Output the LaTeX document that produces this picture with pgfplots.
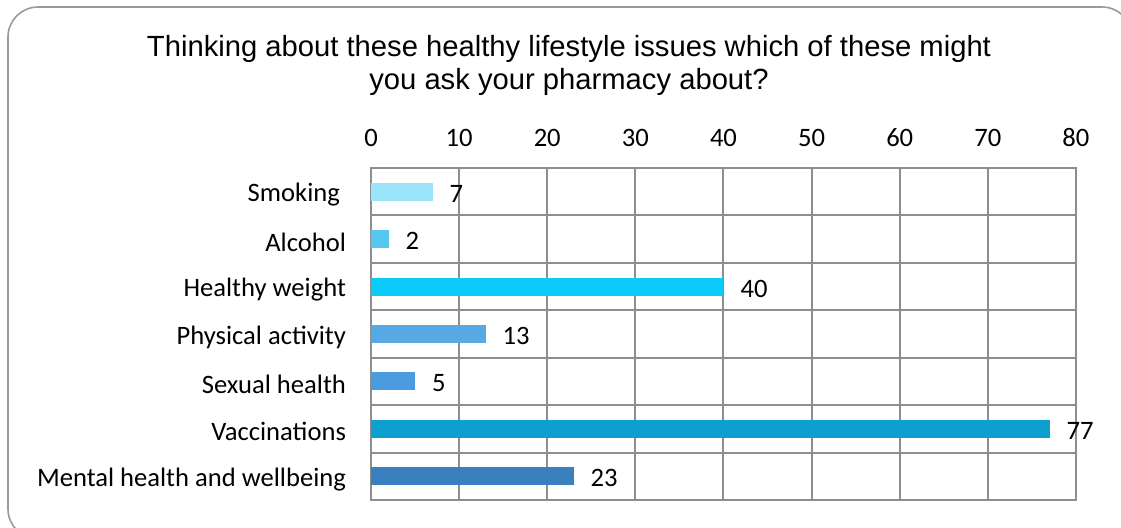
\documentclass[border=0pt]{standalone}
\usepackage{pgfplots}
\pgfplotsset{compat=1.18}
\usepackage{fontspec}
\setmainfont{Carlito}
\newfontfamily\titlefont{Liberation Sans}
\definecolor{gridc}{HTML}{8E8E8E}
\definecolor{frame}{HTML}{9A9A9A}
\definecolor{cA}{HTML}{9BE5FB}
\definecolor{cB}{HTML}{56C8EF}
\definecolor{cC}{HTML}{0BCBFB}
\definecolor{cD}{HTML}{57A9E4}
\definecolor{cE}{HTML}{4A9BE0}
\definecolor{cF}{HTML}{0C9FD0}
\definecolor{cG}{HTML}{3C7FBF}
\begin{document}
\begin{tikzpicture}
\clip (0,0) rectangle (560.5pt,263.5pt);
\draw[frame, line width=0.8pt, rounded corners=15pt] (4pt,260pt) rectangle (566pt,-6pt);
\node[font=\titlefont\fontsize{14.6}{16.4}\selectfont, align=center] at (284.5pt,230.7pt)
  {Thinking about these healthy lifestyle issues which of these might\\you ask your pharmacy about?};
\begin{axis}[
  at={(185.5pt,13.5pt)}, anchor=south west,
  scale only axis, width=352.5pt, height=166pt,
  xbar, bar width=0.38, bar shift=0pt,
  xmin=0, xmax=80, xtick={0,10,...,80},
  ymin=0.5, ymax=7.5, y dir=reverse,
  ytick={1,...,7},
  yticklabels={Smoking\kern3pt,Alcohol,Healthy weight,Physical activity,Sexual health,Vaccinations,Mental health and wellbeing},
  minor ytick={0.5,1.5,...,7.5},
  xmajorgrids, yminorgrids,
  grid style={gridc, line width=1pt},
  minor grid style={gridc, line width=1pt},
  axis line style={gridc, line width=1.4pt},
  major tick length=0pt, minor tick length=0pt,
  xticklabel pos=right,
  tick label style={font=\fontsize{13.3}{15}\selectfont},
  /pgf/number format/assume math mode=true,
  xticklabel style={yshift=7pt},
  yticklabel style={xshift=-9pt, yshift=-1.5pt},
  nodes near coords,
  every node near coord/.style={anchor=west, xshift=5pt, yshift=-1pt, font=\fontsize{13.3}{15}\selectfont, black},
  point meta=explicit symbolic,
]
\addplot[fill=cA, draw=none] coordinates {(7,1) [7]};
\addplot[fill=cB, draw=none] coordinates {(2,2) [2]};
\addplot[fill=cC, draw=none] coordinates {(40,3) [40]};
\addplot[fill=cD, draw=none] coordinates {(13,4) [13]};
\addplot[fill=cE, draw=none] coordinates {(5,5) [5]};
\addplot[fill=cF, draw=none] coordinates {(77,6) [77]};
\addplot[fill=cG, draw=none] coordinates {(23,7) [23]};
\end{axis}
\end{tikzpicture}
\end{document}
